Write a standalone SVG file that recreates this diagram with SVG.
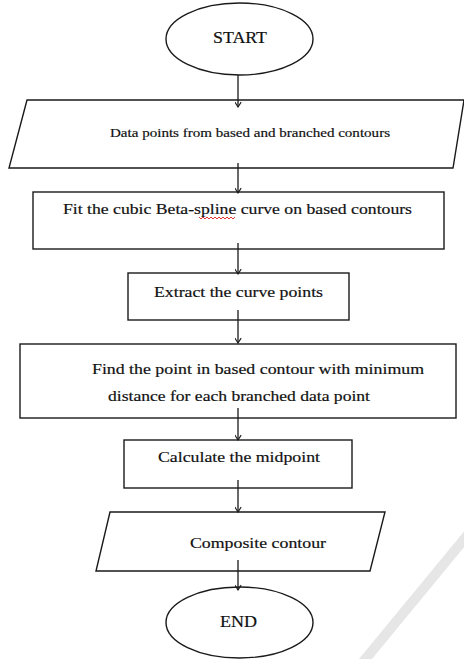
<svg xmlns="http://www.w3.org/2000/svg" width="464" height="659" viewBox="0 0 464 659">
<style>
.shape{fill:#fff;stroke:#1a1a1a;stroke-width:1.4}
.t{font-family:"Liberation Serif","DejaVu Serif","Times New Roman",serif;fill:#111;stroke:#111;stroke-width:0.2;text-anchor:middle}
.c{stroke:#1a1a1a;stroke-width:1.3;fill:none;marker-end:url(#ah)}
</style>
<defs>
<marker id="ah" viewBox="0 0 10 10" refX="9" refY="5" markerWidth="7" markerHeight="7" markerUnits="userSpaceOnUse" orient="auto">
<path d="M2,0.5 L9,5 L2,9.5" fill="none" stroke="#1a1a1a" stroke-width="1.6"/>
</marker>
</defs>
<rect width="464" height="659" fill="#fff"/>
<line x1="470" y1="532" x2="363" y2="662" stroke="#e6e6e6" stroke-width="10"/>

<g id="start">
<ellipse class="shape" cx="239.5" cy="39" rx="73.5" ry="36"/>
<text class="t" x="240" y="43" font-size="16" textLength="54" lengthAdjust="spacingAndGlyphs">START</text>
</g>
<g id="data">
<polygon class="shape" points="27,100 464,100 453,168 9,168"/>
<text class="t" x="250" y="137" font-size="13" textLength="280" lengthAdjust="spacingAndGlyphs">Data points from based and branched contours</text>
</g>
<g id="fit">
<rect class="shape" x="33" y="192" width="411" height="57"/>
<text class="t" x="237.5" y="214" font-size="15.5" textLength="349" lengthAdjust="spacingAndGlyphs">Fit the cubic Beta-spline curve on based contours</text>
<path d="M199,217 l2,2 l2,-2 l2,2 l2,-2 l2,2 l2,-2 l2,2 l2,-2 l2,2 l2,-2 l2,2 l2,-2 l2,2 l2,-2 l2,2 l2,-2 l2,2 l2,-2" fill="none" stroke="#e02020" stroke-width="0.9"/>
</g>
<g id="extract">
<rect class="shape" x="128" y="273" width="221" height="47"/>
<text class="t" x="238.5" y="297" font-size="15.5" textLength="169" lengthAdjust="spacingAndGlyphs">Extract the curve points</text>
</g>
<g id="find">
<rect class="shape" x="20" y="344" width="436" height="74"/>
<text class="t" x="258" y="374" font-size="15.5" textLength="332" lengthAdjust="spacingAndGlyphs">Find the point in based contour with minimum</text>
<text class="t" x="239" y="401" font-size="15.5" textLength="262" lengthAdjust="spacingAndGlyphs">distance for each branched data point</text>
</g>
<g id="calc">
<rect class="shape" x="124" y="440" width="228" height="48"/>
<text class="t" x="239" y="462" font-size="15.5" textLength="162" lengthAdjust="spacingAndGlyphs">Calculate the midpoint</text>
</g>
<g id="composite">
<polygon class="shape" points="110,512 385,512 370,571 96,571"/>
<text class="t" x="258" y="548" font-size="15.5" textLength="136" lengthAdjust="spacingAndGlyphs">Composite contour</text>
</g>
<g id="end">
<ellipse class="shape" cx="239.5" cy="622.5" rx="73.5" ry="35.5"/>
<text class="t" x="238.5" y="627" font-size="16" textLength="37" lengthAdjust="spacingAndGlyphs">END</text>
</g>

<g id="connectors">
<line class="c" x1="238" y1="75" x2="238" y2="107"/>
<line class="c" x1="238" y1="163" x2="238" y2="193"/>
<line class="c" x1="238" y1="243" x2="238" y2="274"/>
<line class="c" x1="238" y1="310" x2="238" y2="343"/>
<line class="c" x1="238" y1="408" x2="238" y2="440"/>
<line class="c" x1="238" y1="480" x2="238" y2="512"/>
<line class="c" x1="238" y1="560" x2="238" y2="590"/>
</g>
</svg>
